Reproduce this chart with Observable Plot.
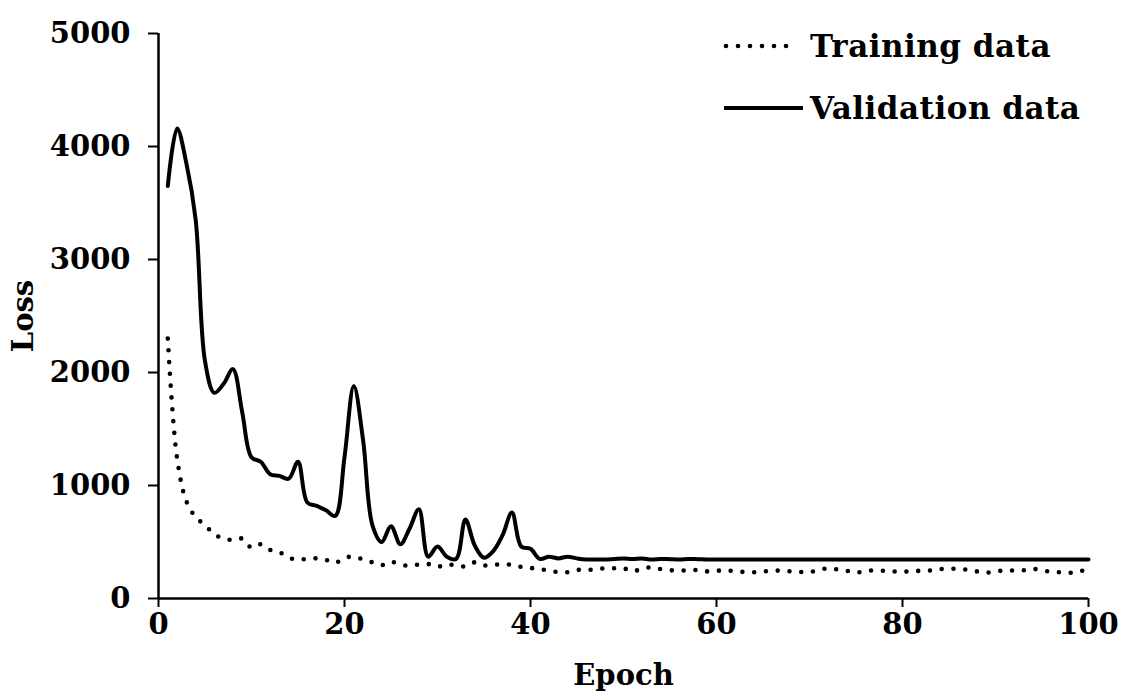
<!DOCTYPE html>
<html><head><meta charset="utf-8">
<script src="https://cdn.jsdelivr.net/npm/d3@7"></script>
<script src="https://cdn.jsdelivr.net/npm/@observablehq/plot@0.6"></script>
<style>
body{margin:0;background:#fff;}
#wrap{position:relative;width:1121px;height:694px;overflow:hidden;}
.lg{position:absolute;left:722px;font-family:"DejaVu Serif";font-weight:bold;font-size:31px;letter-spacing:0.5px;color:#000;display:flex;align-items:center;white-space:nowrap;}
.lg svg{margin-right:6px;}
</style></head><body><div id="wrap"></div>
<script>
const epochs = d3.range(1, 101);
const trainingLoss = [
  2300,1240,860,720,650,570,530,518,530,450,
  480,430,410,360,345,350,355,342,315,360,
  370,345,320,295,325,300,290,300,305,280,
  305,290,285,320,292,300,300,300,280,270,
  262,245,235,233,252,255,255,268,268,268,
  240,265,275,260,250,248,248,252,240,245,
  250,240,235,232,238,248,245,240,235,232,
  255,265,258,245,228,245,248,245,240,236,
  242,245,248,260,265,260,255,240,228,240,
  248,248,250,262,250,236,232,228,240,257
];
const validationLoss = [
  3650,4160,3850,3350,2100,1820,1900,2030,1650,1250,
  1210,1100,1085,1060,1210,850,820,780,730,1250,
  1880,1400,650,500,640,480,620,790,370,460,
  370,350,700,470,360,420,560,760,460,440,
  350,370,355,370,355,345,345,345,350,355,
  350,355,345,350,348,345,350,348,345,345,
  345,345,345,345,345,345,345,345,345,345,
  345,345,345,345,345,345,345,345,345,345,
  345,345,345,345,345,345,345,345,345,345,
  345,345,345,345,345,345,345,345,345,345
];
const xTicks = [0, 20, 40, 60, 80, 100];
const yTicks = [0, 1000, 2000, 3000, 4000, 5000];
const seriesNames = ["Training data", "Validation data"];

const rows = epochs.map((e, i) => ({epoch: e, train: trainingLoss[i], val: validationLoss[i]}));

const chart = Plot.plot({
  width: 1121, height: 694,
  marginLeft: 158, marginRight: 33, marginTop: 33, marginBottom: 96,
  style: {fontFamily: "DejaVu Serif", fontWeight: "bold", fontSize: "29px", color: "#000", background: "#fff", overflow: "visible"},
  x: {domain: [0, 100]},
  y: {domain: [0, 5000]},
  marks: [
    Plot.axisX({ticks: xTicks, tickSize: 9, tickPadding: 6, strokeWidth: 2, tickFormat: d => String(d),
      label: "Epoch", labelAnchor: "center", labelArrow: "none", labelOffset: 86}),
    Plot.axisY({ticks: yTicks, tickSize: 10, tickPadding: 18, strokeWidth: 2, tickFormat: d => String(d),
      label: "Loss", labelAnchor: "center", labelArrow: "none", labelOffset: 146}),
    Plot.ruleY([0], {stroke: "#000", strokeWidth: 2.5}),
    Plot.ruleX([0], {stroke: "#000", strokeWidth: 2.5}),
    Plot.line(rows, {x: "epoch", y: "train", curve: "catmull-rom", stroke: "#000", strokeWidth: 4.6,
      strokeDasharray: "0,11.8", strokeLinecap: "round"}),
    Plot.line(rows, {x: "epoch", y: "val", curve: "catmull-rom", stroke: "#000", strokeWidth: 4,
      strokeLinejoin: "round"})
  ]
});
const wrap = document.getElementById("wrap");
wrap.appendChild(chart);

function legendRow(name, dotted, top) {
  const div = document.createElement("div");
  div.className = "lg";
  div.style.top = top + "px";
  const ns = "http://www.w3.org/2000/svg";
  const svg = document.createElementNS(ns, "svg");
  svg.setAttribute("width", 82); svg.setAttribute("height", 12);
  const ln = document.createElementNS(ns, "line");
  ln.setAttribute("x1", dotted ? 4 : 2); ln.setAttribute("x2", dotted ? 76 : 81);
  ln.setAttribute("y1", 6); ln.setAttribute("y2", 6);
  ln.setAttribute("stroke", "#000");
  ln.setAttribute("stroke-width", dotted ? 4.6 : 4);
  if (dotted) { ln.setAttribute("stroke-dasharray", "0,12"); ln.setAttribute("stroke-linecap", "round"); }
  svg.appendChild(ln);
  div.appendChild(svg);
  const sp = document.createElement("span");
  sp.textContent = name;
  div.appendChild(sp);
  wrap.appendChild(div);
}
legendRow(seriesNames[0], true, 28);
legendRow(seriesNames[1], false, 90);
</script>
</body></html>
